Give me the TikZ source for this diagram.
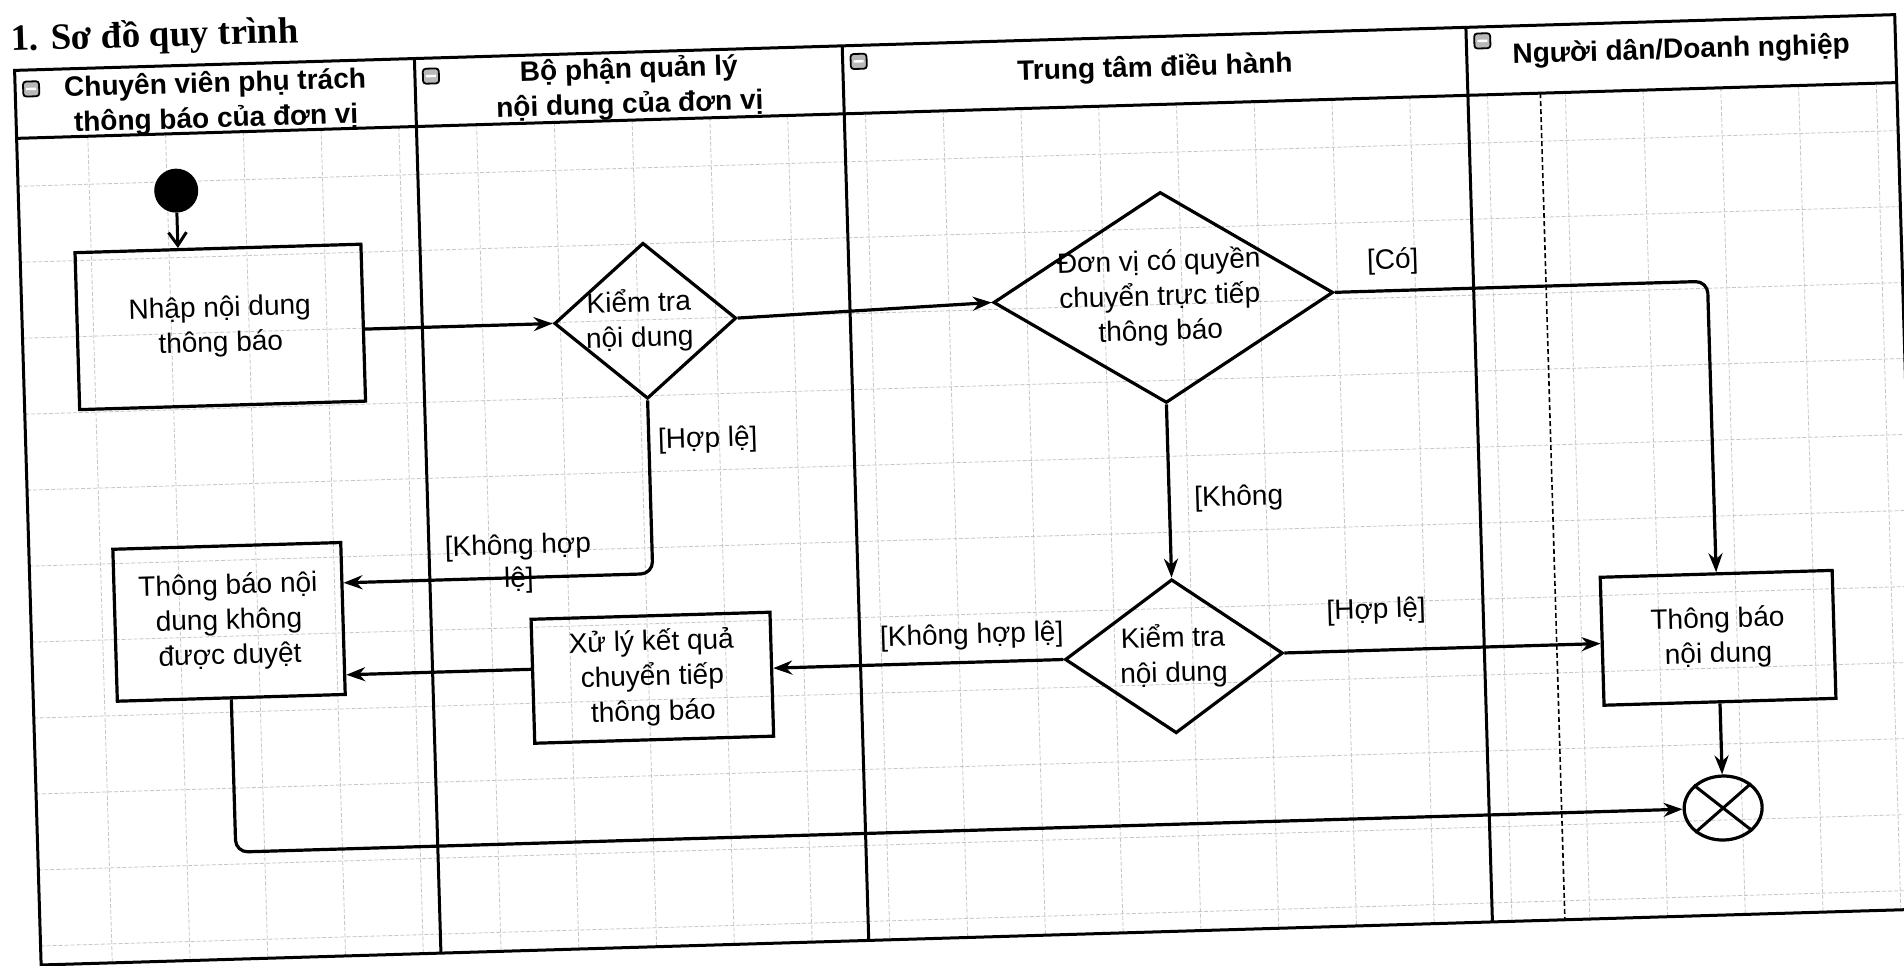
\documentclass[tikz,border=0pt]{standalone}
\usepackage{fontspec}
\setmainfont{Liberation Sans}
\newfontfamily\titlefont{Liberation Serif}
\usetikzlibrary{shapes.geometric,arrows.meta}
\begin{document}
\begin{tikzpicture}[x=1pt,y=-1pt,
  lane/.style={line width=3pt},
  gridline/.style={gray!45,line width=0.8pt,dash pattern=on 4pt off 2pt},
  box/.style={draw,line width=3.2pt,rectangle,align=center,inner sep=0pt,font=\fontsize{28}{35}\selectfont},
  dia/.style={draw,line width=3.2pt,diamond,inner sep=0pt},
  dtext/.style={align=center,inner sep=0pt,font=\fontsize{28}{35}\selectfont},
  conn/.style={line width=3.2pt,-{Stealth[length=19pt,width=14pt]},rounded corners=12pt},
  lbl/.style={font=\fontsize{28}{33}\selectfont,inner sep=0pt,align=center},
  hdr/.style={font=\bfseries\fontsize{28}{35}\selectfont,align=center,inner sep=0pt},
  icon/.style={line width=1.8pt,rounded corners=3pt,fill=gray!55},
]
\useasboundingbox (0,0) rectangle (1904,966);
\fill[white] (0,0) rectangle (1904,966);
\begin{scope}[shift={(14.6,70.4)},rotate=1.7,transform shape]
% grid
\foreach \k in {0,...,23} { \draw[gridline] ({71.2+77.8*\k},68) -- ({71.2+77.8*\k},895); }
\foreach \k in {0,...,10} { \draw[gridline] (0,{116+76*\k}) -- (1881,{116+76*\k}); }
% lanes
\draw[lane] (0,0) rectangle (1881,895);
\draw[lane] (0,68) -- (1881,68);
\foreach \u in {400,828,1452} { \draw[lane] (\u,0) -- (\u,895); }
\draw[line width=1.6pt,dash pattern=on 5pt off 3pt] (1524.5,68) -- (1524.5,895);
% icons
\foreach \u/\v in {0/19,400/18,828/16,1452/14} {
  \draw[icon] ({\u+8},{\v-7.5}) rectangle ({\u+24},{\v+7.5});
  \draw[white,line width=2.4pt] ({\u+11},\v) -- ({\u+21},\v);
}
% title and headers
\node[anchor=base west,inner sep=0pt,font=\titlefont\bfseries\fontsize{37}{40}\selectfont] (title) at (-3,-19.5) {1. Sơ đồ quy trình};
\node[hdr] (h1) at (200,38) {Chuyên viên phụ trách\\thông báo của đơn vị};
\node[hdr] (h2) at (614,36) {Bộ phận quản lý\\nội dung của đơn vị};
\node[hdr] (h3) at (1140,32) {Trung tâm điều hành};
\node[hdr] (h4) at (1666.5,30) {Người dân/Doanh nghiệp};
% nodes
\node[circle,fill,inner sep=0pt,minimum size=44pt] (start) at (158,125) {};
\node[box,minimum width=286pt,minimum height=157pt] (nhap) at (198,262.5) {Nhập nội dung\\thông báo};
\node[dia,minimum width=182pt,minimum height=156pt] (d1) at (623,269) {};
\node[dtext] (d1t) at (617,269) {Kiểm tra\\nội dung};
\node[dia,minimum width=340pt,minimum height=211pt] (d2) at (1141.5,261) {};
\node[dtext] (d2t) at (1138,261) {Đơn vị có quyền\\chuyển trực tiếp\\thông báo};
\node[dia,minimum width=218pt,minimum height=154pt] (d3) at (1141.5,620) {};
\node[dtext] (d3t) at (1141,620) {Kiểm tra\\nội dung};
\node[box,minimum width=239pt,minimum height=124pt] (xuly) at (619.5,626) {Xử lý kết quả\\chuyển tiếp\\thông báo};
\node[box,minimum width=228pt,minimum height=152pt] (tbkd) at (198,557.6) {Thông báo nội\\dung không\\được duyệt};
\node[box,minimum width=232pt,minimum height=128pt] (tbnd) at (1686,617.7) {Thông báo\\nội dung};
\node[draw,ellipse,line width=3.2pt,inner sep=0pt,minimum width=78pt,minimum height=64pt] (fin) at (1686,788) {};
\draw[line width=3pt] (fin.north east) -- (fin.south west);
\draw[line width=3pt] (fin.north west) -- (fin.south east);
% connectors
\draw[line width=3pt,-{Straight Barb[length=13pt,width=18pt]}] (start) -- (start |- nhap.north);
\draw[conn] (nhap.east |- d1.west) -- (d1.west);
\draw[conn] (d1.east) -- (d2.west);
\draw[conn] (d2.east) -| (tbnd.north);
\draw[conn] (d2.south) -- (d3.north);
\draw[conn] (d3.east) -- (d3.east -| tbnd.west);
\draw[conn] (d3.west) -- (d3.west -| xuly.east);
\coordinate (xa) at (500,614);
\draw[conn] (xuly.west |- xa) -- (tbkd.east |- xa);
\coordinate (b1) at (623,522);
\draw[conn] (d1.south) -- (b1) -- (tbkd.east |- b1);
\draw[conn] (tbnd.south) -- (fin.north);
\draw[conn] (tbkd.south) |- (fin.west);
% labels
\node[lbl] (lco) at (1372,232) {[Có]};
\node[lbl] (lkh) at (1211,464) {[Không};
\node[lbl] (lhl2) at (1345,581) {[Hợp lệ]};
\node[lbl] (lkhl2) at (940,594) {[Không hợp lệ]};
\node[lbl] (lhl1) at (682,390) {[Hợp lệ]};
\node[lbl] (lkhl1) at (489,508) {[Không hợp\\lệ]};
\end{scope}
\end{tikzpicture}
\end{document}
